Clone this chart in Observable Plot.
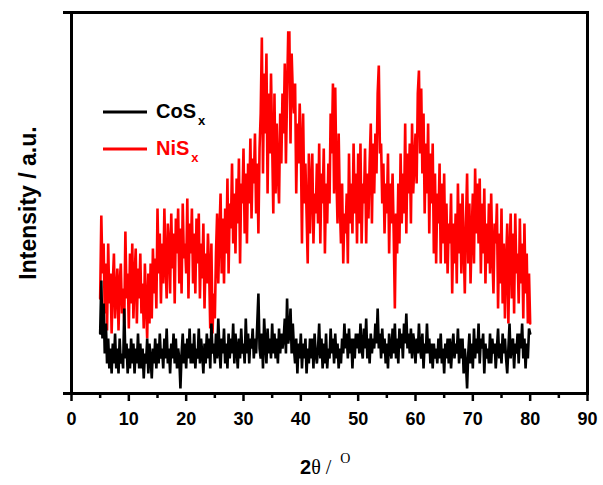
<!DOCTYPE html>
<html>
<head>
<meta charset="utf-8">
<script src="https://cdn.jsdelivr.net/npm/d3@7"></script>
<script src="https://cdn.jsdelivr.net/npm/@observablehq/plot@0.6"></script>
<style>
  html, body { margin: 0; padding: 0; background: #fff; }
  #chart svg { display: block; }
</style>
</head>
<body>
<div id="chart"></div>
<script>
// Scan grid: 2θ from 5° to 80°, one reading every 0.2°
const scanStart = 5;
const scanStep = 0.2;

// NiSx intensity (arb. units), 5 readings per degree
const nisValues = [
  95,178,120,150,80, 130,63,150,90,120, 60,110,140,75,100, 125,63,110,130,80, 105,70,162,95,120,
  65,140,90,150,75, 115,145,70,125,95, 140,80,110,65,130, 90,55,120,70,130, 75,145,100,135,85,
  185,120,160,90,150, 110,185,130,95,170, 150,100,180,125,160, 90,175,140,185,110, 165,100,190,135,150,
  120,195,95,170,140, 185,110,160,100,175, 130,180,95,150,115, 170,85,140,110,160, 125,65,150,60,100,
  75,140,180,110,160, 200,120,175,110,185, 140,215,120,190,165, 230,150,200,140,215, 170,235,130,210,190,
  245,160,220,150,230, 190,255,175,235,210, 260,180,230,160,245, 280,356,220,320,260, 340,200,300,240,320,
  250,180,300,200,270, 220,190,280,230,300, 260,330,230,300,361, 361,250,340,300,280, 310,200,270,230,290,
  250,150,280,190,230, 180,130,240,160,210, 240,150,200,180,230, 170,250,150,220,190, 245,140,210,170,230,
  190,280,240,310,200, 306,220,170,260,190, 150,210,130,180,160, 200,130,240,170,210, 160,250,180,220,150,
  240,170,250,150,210, 190,245,150,220,175, 230,270,170,250,200, 260,220,300,328,240, 250,190,230,160,210,
  180,240,140,210,170, 220,160,85,180,140, 210,150,240,170,220, 180,270,160,240,200, 250,170,270,200,230,
  260,210,300,323,240, 305,220,280,180,250, 200,270,160,240,190, 250,140,220,130,200, 170,230,130,210,150,
  220,130,190,120,170, 150,200,100,170,130, 180,110,210,140,190, 120,200,150,100,170, 220,130,190,110,160,
  200,130,225,160,210, 150,215,120,190,140, 205,110,170,130,190, 120,200,140,100,170, 150,190,85,160,110,
  185,90,150,75,130, 170,70,140,180,95, 160,80,180,120,140, 90,175,110,150,75, 170,100,140,70,120,
  70
];

// CoSx intensity (arb. units), 5 readings per degree
const cosValues = [
  60,113,55,90,40, 70,30,55,25,45, 20,50,30,60,25, 45,20,55,30,40, 25,85,35,50,20,
  45,25,55,30,50, 20,45,30,60,25, 50,25,45,15,40, 30,55,20,50,35, 15,45,30,55,25,
  50,30,60,35,45, 25,55,35,65,30, 45,20,50,35,60, 30,55,25,45,35, 5,40,60,30,50,
  25,55,35,65,30, 50,30,60,25,45, 35,65,30,55,40, 20,50,30,60,35, 55,25,70,40,50,
  30,60,35,75,45, 25,55,40,65,30, 50,25,60,35,55, 40,70,30,60,45, 25,55,35,65,40,
  50,30,75,40,60, 30,55,45,65,35, 55,40,70,100,45, 35,60,25,75,50, 30,65,40,55,35,
  70,40,60,35,55, 30,65,40,60,45, 55,75,40,95,50, 60,85,40,70,45, 30,55,20,50,35,
  60,25,50,35,55, 20,45,30,55,35, 55,25,60,40,30, 45,70,35,55,25, 50,30,60,25,45,
  35,65,40,55,30, 60,35,50,25,45, 30,55,40,70,45, 60,35,65,40,55, 25,55,35,60,45,
  60,40,70,45,35, 65,45,75,35,55, 30,60,40,55,45, 70,50,85,45,60, 35,65,40,55,30,
  50,25,60,45,35, 65,40,70,35,55, 30,65,45,60,35, 70,50,80,45,60, 40,65,35,60,50,
  30,55,40,70,45, 35,60,25,50,40, 70,40,55,30,50, 25,50,35,45,30, 55,35,60,30,45,
  20,50,35,55,30, 55,25,45,60,35, 50,40,65,30,55, 35,55,20,45,30, 5,40,60,30,50,
  25,65,35,55,40, 70,30,55,45,60, 20,50,35,45,30, 60,30,55,40,50, 25,45,65,35,50,
  30,60,40,55,35, 20,45,70,35,50, 55,25,50,40,60, 30,60,45,70,35, 55,25,50,35,65,
  60
];

const seriesNames = ["CoSx", "NiSx"];
const seriesColors = ["#000000", "#ff0000"];
const xMajorTicks = [0, 10, 20, 30, 40, 50, 60, 70, 80, 90];
const xMinorTicks = [5, 15, 25, 35, 45, 55, 65, 75, 85];
const yDomain = [0, 381];

const toRows = (vals, name) => vals.map((v, i) => ({theta: scanStart + i * scanStep, intensity: v, series: name}));
const nis = toRows(nisValues, "NiSx");
const cos = toRows(cosValues, "CoSx");

const W = 603, H = 485;
const chart = Plot.plot({
  width: W,
  height: H,
  marginLeft: 71,
  marginRight: 16,
  marginTop: 12,
  marginBottom: 92,
  style: {background: "#fff", fontFamily: "'Liberation Sans', Arial, sans-serif", color: "#000"},
  x: {domain: [0, 90]},
  y: {domain: yDomain},
  marks: [
    Plot.line(nis, {x: "theta", y: "intensity", stroke: seriesColors[1], strokeWidth: 2.6, strokeLinejoin: "miter", strokeMiterlimit: 2}),
    Plot.line(cos, {x: "theta", y: "intensity", stroke: seriesColors[0], strokeWidth: 2.6, strokeLinejoin: "miter", strokeMiterlimit: 2}),
    Plot.axisX({ticks: xMinorTicks, tickSize: 5, strokeWidth: 2.5, text: null, label: null}),
    Plot.axisX({ticks: xMajorTicks, tickSize: 8, strokeWidth: 2.5, tickPadding: 11, fontSize: 18, fontWeight: "bold", label: null}),
    Plot.axisY({ticks: yDomain, tickSize: 8, strokeWidth: 3, text: null, label: null}),
    Plot.frame({stroke: "#000", strokeWidth: 3})
  ]
});
document.getElementById("chart").appendChild(chart);

const svg = d3.select(chart);
// Y axis title
svg.append("text")
  .attr("transform", "translate(36,203) rotate(-90)")
  .attr("text-anchor", "middle")
  .attr("font-family", "'Liberation Sans', Arial, sans-serif")
  .attr("font-weight", "bold")
  .attr("font-size", 23)
  .attr("fill", "#000")
  .text("Intensity / a.u.");

// X axis title: 2θ / °
const xt = svg.append("text")
  .attr("x", 300).attr("y", 474)
  .attr("text-anchor", "start")
  .attr("font-size", 20)
  .attr("fill", "#000");
xt.append("tspan").attr("font-family", "'Liberation Sans', Arial, sans-serif").attr("font-weight", "bold").text("2");
xt.append("tspan").attr("font-family", "'Liberation Serif', 'Times New Roman', serif").text("θ / ");
xt.append("tspan").attr("font-family", "'Liberation Serif', 'Times New Roman', serif").attr("font-size", 14).attr("dy", -11).attr("dx", 4).text("O");

// Legend
const legendY = [112, 149];
const legendBase = [118, 155];
seriesNames.forEach((name, i) => {
  svg.append("line")
    .attr("x1", 103).attr("x2", 147)
    .attr("y1", legendY[i]).attr("y2", legendY[i])
    .attr("stroke", seriesColors[i]).attr("stroke-width", 3);
  const t = svg.append("text")
    .attr("x", 156).attr("y", legendBase[i])
    .attr("text-anchor", "start")
    .attr("font-family", "'Liberation Sans', Arial, sans-serif")
    .attr("font-weight", "bold")
    .attr("font-size", 20)
    .attr("fill", seriesColors[i]);
  t.append("tspan").text(name.slice(0, -1));
  t.append("tspan").attr("font-size", 13).attr("dy", 7).attr("dx", 2).text(name.slice(-1));
});
</script>
</body>
</html>
